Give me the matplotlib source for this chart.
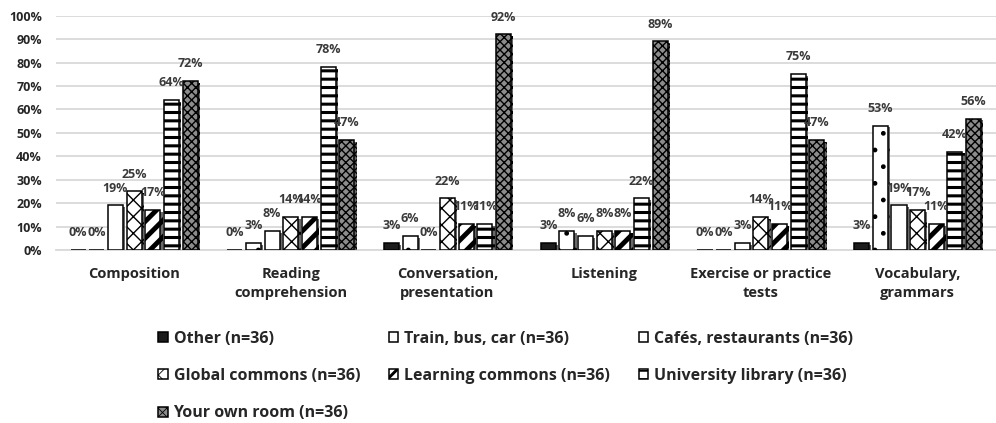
import numpy as np
import matplotlib
matplotlib.use('Agg')
from matplotlib import pyplot as plt
from matplotlib import patheffects as pe
from matplotlib import font_manager as fm

#%% Data
activities = ['Composition', 'Reading\ncomprehension', 'Conversation,\npresentation',
              'Listening', 'Exercise or practice\ntests', 'Vocabulary,\ngrammars']

places = ['Other (n=36)', 'Train, bus, car (n=36)', 'Cafés, restaurants (n=36)',
          'Global commons (n=36)', 'Learning commons (n=36)', 'University library (n=36)',
          'Your own room (n=36)']

other       = [0, 0, 3, 3, 0, 3]
train       = [0, 3, 6, 8, 0, 53]
cafes       = [19, 8, 0, 6, 3, 19]
global_c    = [25, 14, 22, 8, 14, 17]
learning_c  = [17, 14, 11, 8, 11, 11]
library     = [64, 78, 11, 22, 75, 42]
own_room    = [72, 47, 92, 89, 47, 56]

series = [other, train, cafes, global_c, learning_c, library, own_room]

#%% Styles (face colour, hatch, hatch linewidth)
styles = [('#1c1c1c', None, 1.0),
          ('white', '.', 1.0),
          ('white', None, 1.0),
          ('white', 'xx', 1.0),
          ('white', '//', 3.5),
          ('white', '--', 2.2),
          ('0.55', 'xxxx', 1.0)]

# pick a family that really ships a bold face
fam = 'DejaVu Sans'
for f in ['Open Sans', 'Roboto', 'Noto Sans', 'Liberation Sans']:
    try:
        p = fm.findfont(fm.FontProperties(family=f, weight='bold'), fallback_to_default=False)
        if 'bold' in p.lower():
            fam = f
            break
    except Exception:
        pass

plt.rcParams['font.family'] = [fam, 'DejaVu Sans']
plt.rcParams['font.weight'] = 'bold'
txt_col = '#262626'

fig = plt.figure(figsize=(9.96, 4.23), dpi=100)
ax = fig.add_axes([0.056, 0.409, 0.944, 0.554])

x = np.arange(len(activities))
pitch = 0.119
width = 0.096
shadow = [pe.SimplePatchShadow(offset=(1.6, -1.2), shadow_rgbFace='0.35', alpha=0.9), pe.Normal()]

containers = []
for j, (vals, (fc, hatch, hlw)) in enumerate(zip(series, styles)):
    pos = x + (j - 3) * pitch
    bars = ax.bar(pos, np.array(vals) / 100, width, color=fc, edgecolor='black',
                  linewidth=1.1, hatch=hatch, zorder=3, label=places[j])
    for b in bars:
        b.set_path_effects(shadow)
        if hasattr(b, 'set_hatch_linewidth'):
            b.set_hatch_linewidth(hlw)
    containers.append(bars)
    for p, v in zip(pos, vals):
        ax.annotate('{}%'.format(v), (p, v / 100), xytext=(0, 12.5), textcoords='offset points',
                    ha='center', va='center', fontsize=9, fontweight='bold', color='#3a3a3a', zorder=4)

ax.set_ylim(0, 1)
ax.set_xlim(-0.5, len(activities) - 0.5)
ax.set_yticks(np.arange(0, 1.01, 0.1))
ax.set_yticklabels(['{:.0f}%'.format(t * 100) for t in np.arange(0, 1.01, 0.1)])
ax.set_xticks(x)
ax.set_xticklabels(activities, linespacing=1.5)
ax.tick_params(axis='both', length=0, colors=txt_col)
ax.tick_params(axis='y', pad=10, labelsize=9)
ax.tick_params(axis='x', pad=12, labelsize=10.5)
for t in ax.get_xticklabels() + ax.get_yticklabels():
    t.set_fontweight('bold')
ax.grid(axis='y', color='#d9d9d9', linewidth=1.3, zorder=0)
for s in ['top', 'right', 'left']:
    ax.spines[s].set_visible(False)
ax.spines['bottom'].set_color('#d9d9d9')
ax.spines['bottom'].set_linewidth(1.3)

# legend rows go across, so reorder for column-first filling
order = [0, 3, 6, 1, 4, 2, 5]
leg = fig.legend([containers[i] for i in order], [places[i] for i in order],
                 ncol=3, loc='upper left', bbox_to_anchor=(0.159, 0.218), frameon=False,
                 prop={'size': 11.5, 'weight': 'bold'},
                 handlelength=0.6, handleheight=0.6, handletextpad=0.35,
                 columnspacing=1.8, labelspacing=1.33, borderpad=0, borderaxespad=0)
for t in leg.get_texts():
    t.set_color(txt_col)
for h, i in zip(leg.get_patches(), order):
    h.set_path_effects([])
    if hasattr(h, 'set_hatch_linewidth'):
        h.set_hatch_linewidth(styles[i][2] * 0.6)

fig.savefig('out.png', dpi=100)
